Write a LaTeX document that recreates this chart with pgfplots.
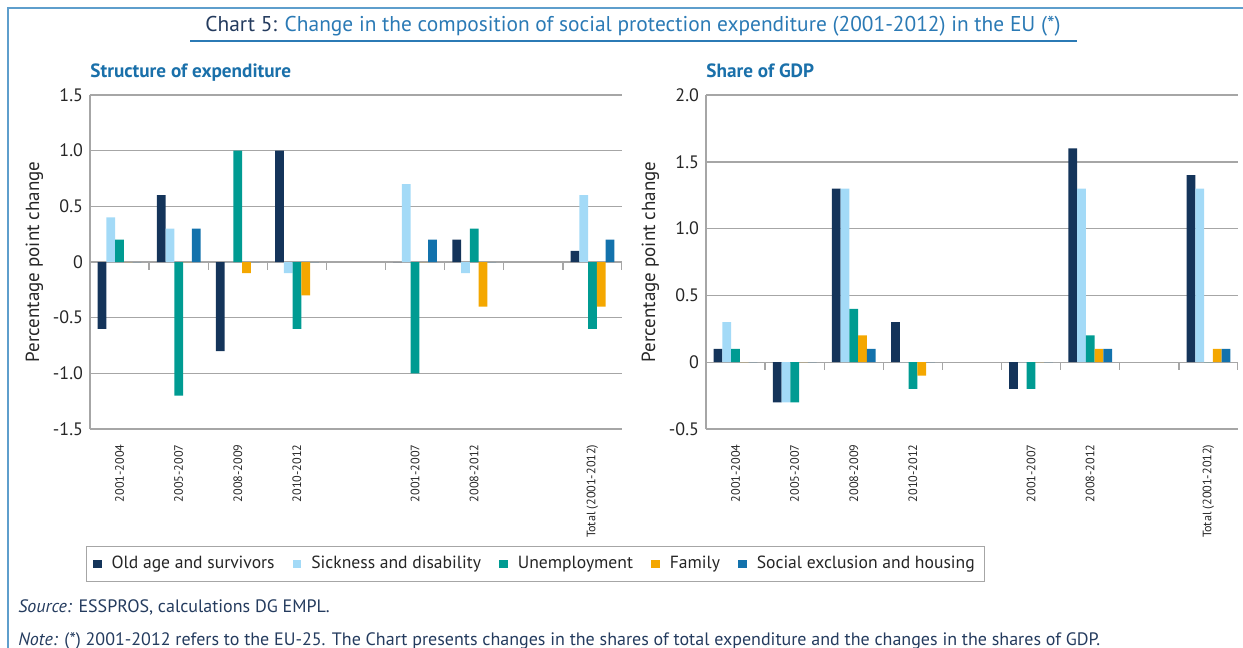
\documentclass[border=0pt]{standalone}
\usepackage{pgfplots}
\pgfplotsset{compat=1.18}
\usepackage{fontspec}
\setmainfont{PT Sans}

\definecolor{navyc}{HTML}{14345A}
\definecolor{lightc}{HTML}{A3DAF7}
\definecolor{tealc}{HTML}{009B92}
\definecolor{orangec}{HTML}{F4A700}
\definecolor{bluec}{HTML}{1372AC}
\definecolor{gridc}{HTML}{A6A6A6}
\definecolor{textc}{HTML}{262626}
\definecolor{titlec}{HTML}{2B7AB5}
\definecolor{headc}{HTML}{1A70AA}
\definecolor{framec}{HTML}{5E9ECC}
\definecolor{notec}{HTML}{243B5E}

\pgfplotsset{
  panel/.style={
    scale only axis, width=266pt, height=167pt,
    xmin=-0.5, xmax=8.5,
    ybar=0pt, bar width=0.148,
    axis x line*=bottom, axis y line*=left,
    axis line style={draw=gridc, line width=0.7pt},
    xtick={0,1,2,3,5,6,8},
    xticklabels={2001-2004,2005-2007,2008-2009,2010-2012,2001-2007,2008-2012,Total (2001-2012)},
    xtick style={draw=none}, ytick style={draw=none},
    x tick label style={rotate=90, anchor=east, font=\fontsize{6.1}{7}\selectfont, text=textc},
    y tick label style={font=\fontsize{9}{10}\selectfont, text=textc},
    ymajorgrids, grid style={gridc, line width=0.7pt},
    ylabel={Percentage point change},
    ylabel style={font=\fontsize{9.5}{10}\selectfont, text=textc, yshift=-2pt},
    legend image code/.code={\draw[#1, draw=none] (0pt,-2.2pt) rectangle (4.4pt,2.2pt);},
  },
}

\begin{document}
\begin{tikzpicture}
\useasboundingbox (0,0) rectangle (621.5pt,-324pt);

% left panel: structure of expenditure
\begin{axis}[panel, at={(45pt,-214.5pt)}, anchor=south west,
  ymin=-1.5, ymax=1.5, ytick={-1.5,-1,-0.5,0,0.5,1,1.5},
  yticklabels={-1.5,-1.0,-0.5,0,0.5,1.0,1.5},
  legend columns=5,
  legend style={at={(0.838,-0.404)}, anchor=center, draw=gridc, line width=0.5pt,
    font=\fontsize{8.8}{11}\selectfont, text=textc, inner ysep=3pt,
    /tikz/every odd column/.append style={column sep=3pt},
    /tikz/every even column/.append style={column sep=7pt}},
]
\addplot[fill=navyc, draw=none] coordinates {(0,-0.6) (1,0.6) (2,-0.8) (3,1.0) (5,0) (6,0.2) (8,0.1)};
\addlegendentry{Old age and survivors}
\addplot[fill=lightc, draw=none] coordinates {(0,0.4) (1,0.3) (2,0) (3,-0.1) (5,0.7) (6,-0.1) (8,0.6)};
\addlegendentry{Sickness and disability}
\addplot[fill=tealc, draw=none] coordinates {(0,0.2) (1,-1.2) (2,1.0) (3,-0.6) (5,-1.0) (6,0.3) (8,-0.6)};
\addlegendentry{Unemployment}
\addplot[fill=orangec, draw=none] coordinates {(0,0) (1,0) (2,-0.1) (3,-0.3) (5,0) (6,-0.4) (8,-0.4)};
\addlegendentry{Family}
\addplot[fill=bluec, draw=none] coordinates {(0,0) (1,0.3) (2,0) (3,0) (5,0.2) (6,0) (8,0.2)};
\addlegendentry{Social exclusion and housing}
\pgfplotsinvokeforeach{-0.5,0.5,...,8.5}{\draw[gridc, line width=0.7pt] (axis cs:#1,0) -- ([yshift=-4pt]axis cs:#1,0);}
\end{axis}

% right panel: share of GDP
\begin{axis}[panel, at={(353pt,-214.5pt)}, anchor=south west,
  ymin=-0.5, ymax=2, ytick={-0.5,0,0.5,1,1.5,2},
  yticklabels={-0.5,0,0.5,1.0,1.5,2.0},
]
\addplot[fill=navyc, draw=none] coordinates {(0,0.1) (1,-0.3) (2,1.3) (3,0.3) (5,-0.2) (6,1.6) (8,1.4)};
\addplot[fill=lightc, draw=none] coordinates {(0,0.3) (1,-0.3) (2,1.3) (3,0) (5,0) (6,1.3) (8,1.3)};
\addplot[fill=tealc, draw=none] coordinates {(0,0.1) (1,-0.3) (2,0.4) (3,-0.2) (5,-0.2) (6,0.2) (8,0)};
\addplot[fill=orangec, draw=none] coordinates {(0,0) (1,0) (2,0.2) (3,-0.1) (5,0) (6,0.1) (8,0.1)};
\addplot[fill=bluec, draw=none] coordinates {(0,0) (1,0) (2,0.1) (3,0) (5,0) (6,0.1) (8,0.1)};
\pgfplotsinvokeforeach{-0.5,0.5,...,8.5}{\draw[gridc, line width=0.7pt] (axis cs:#1,0) -- ([yshift=-4pt]axis cs:#1,0);}
\end{axis}

\begin{scope}[x=0.5pt, y=-0.5pt]
  % frame
  \draw[framec, line width=1pt] (8,648) -- (8,8) -- (1243,8);
  % title
  \node[anchor=base, font=\fontsize{10.7}{13}\selectfont] at (633,32)
    {\textcolor{notec}{Chart 5:} \textcolor{titlec}{Change in the composition of social protection expenditure (2001-2012) in the EU (*)}};
  \draw[titlec, line width=0.6pt] (190,41) -- (1077,41);
  % panel titles
  \node[anchor=base west, inner sep=0pt, font=\bfseries\fontsize{9.6}{11}\selectfont, text=headc] at (90,77) {Structure of expenditure};
  \node[anchor=base west, inner sep=0pt, font=\bfseries\fontsize{9.6}{11}\selectfont, text=headc] at (706,77) {Share of GDP};
  % source and note
  \node[anchor=base west, inner sep=0pt, font=\fontsize{9}{11}\selectfont, text=notec] at (18,612)
    {\textit{Source:} ESSPROS, calculations DG EMPL.};
  \node[anchor=base west, inner sep=0pt, font=\fontsize{9}{11}\selectfont, text=notec] at (18,645)
    {\textit{Note:} (*) 2001-2012 refers to the EU-25. The Chart presents changes in the shares of total expenditure and the changes in the shares of GDP.};
\end{scope}
\end{tikzpicture}
\end{document}
